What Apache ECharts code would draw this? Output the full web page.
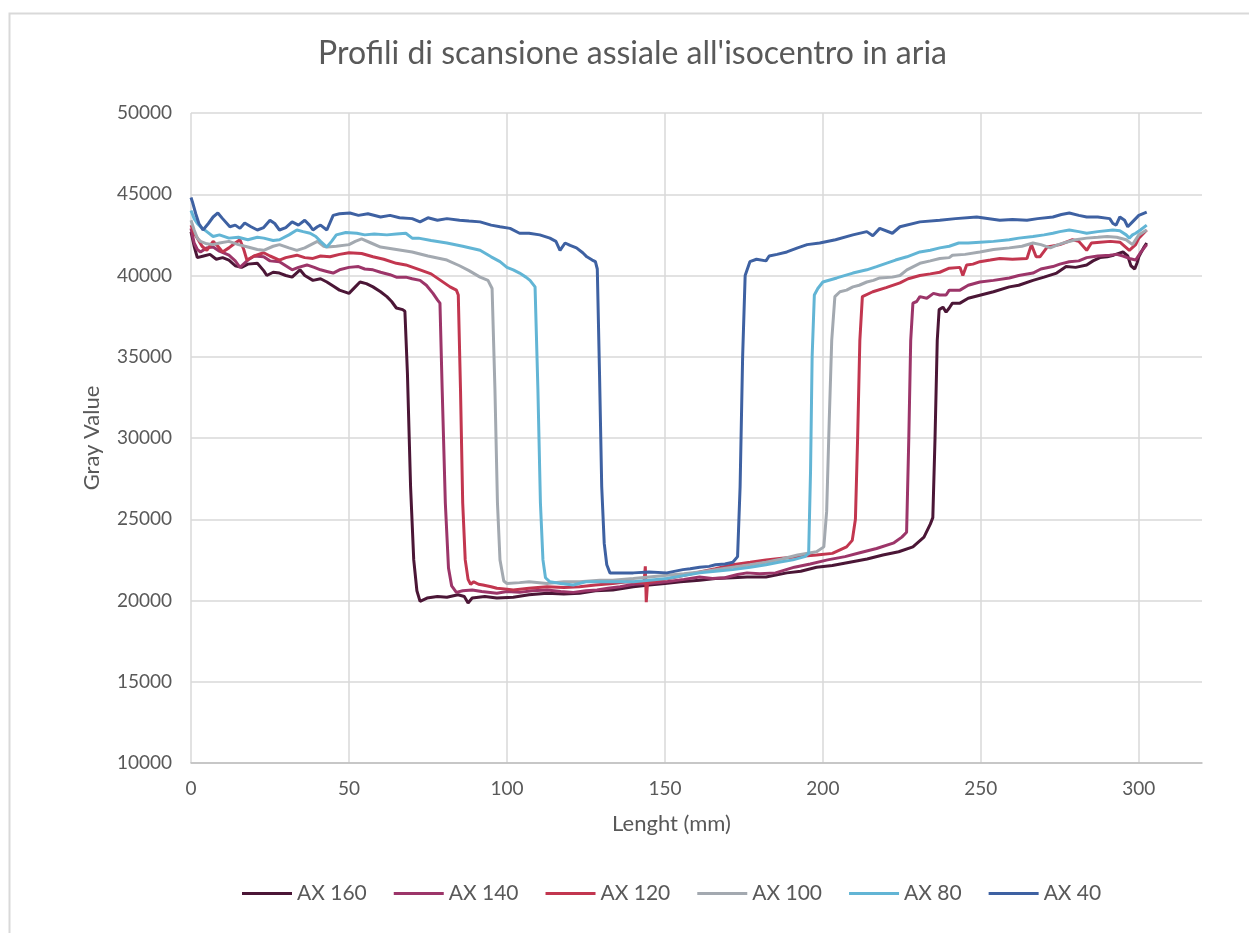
<!DOCTYPE html>
<html><head><meta charset="utf-8">
<script src="https://cdn.jsdelivr.net/npm/echarts@6/dist/echarts.min.js"></script>
<style>html,body{margin:0;padding:0;background:#fff}#c{width:1249px;height:933px}</style>
</head><body><div id="c"></div><script>
const titleText = "Profili di scansione assiale all'isocentro in aria";
const xName = "Lenght (mm)";
const yName = "Gray Value";
const seriesNames = ["AX 160", "AX 140", "AX 120", "AX 100", "AX 80", "AX 40"];
const seriesColors = ["#4b1636", "#9c3569", "#c2364f", "#a3a9b0", "#62b5d5", "#3e61a2"];
const xTicks = {min: 0, max: 320, step: 50};
const yTicks = {min: 10000, max: 50000, step: 5000};

const ax160 = [[0,42700],[1,41800],[2,41100],[4,41200],[6,41300],[8,41000],[10,41100],[12,40950],[14,40600],[16,40500],[18,40700],[21,40750],[23,40300],[24,40000],[26,40200],[28,40150],[30,40000],[32,39900],[34.5,40350],[36,40000],[38.6,39700],[41,39800],[43,39600],[45,39350],[47,39100],[50,38900],[52,39300],[53.5,39600],[55.5,39500],[57.6,39300],[60,39000],[62,38700],[63.5,38400],[65,38000],[67,37900],[67.7,37800],[68.5,34000],[69.5,27000],[70.5,22500],[71.5,20600],[72.5,19950],[74.7,20150],[78,20250],[81,20200],[84.5,20350],[86.5,20250],[87.7,19850],[89,20150],[93,20250],[96.8,20150],[102,20200],[107,20350],[112.7,20450],[118,20400],[123,20450],[128,20600],[133.5,20650],[140,20850],[145,20950],[150,21050],[155,21150],[161,21250],[166,21350],[171.5,21400],[176,21450],[182,21450],[188.6,21700],[193,21800],[198,22050],[203,22150],[208.5,22350],[214,22550],[219,22800],[224,23000],[228.5,23300],[232,23900],[234,24700],[234.8,25100],[235.5,30000],[236.2,36000],[236.8,37900],[238,38050],[239,37750],[240,38000],[241,38300],[243.4,38300],[246,38600],[250,38800],[254,39000],[259,39300],[262,39400],[266.5,39700],[270,39900],[274,40150],[277,40550],[280,40500],[283.5,40650],[285.5,40900],[287.7,41100],[290,41150],[292,41250],[295,41450],[296.5,41200],[297.5,40600],[298.7,40400],[299.5,40800],[300,41150],[301.5,41700],[302.5,42000]];

const ax140 = [[0,42900],[1,42000],[2,41600],[3,41450],[5,41700],[7,41750],[9,41500],[12,41250],[14,40900],[15.5,40500],[18,40950],[20,41200],[23,41150],[25,40900],[28,40850],[30,40600],[32,40350],[34,40500],[36.7,40650],[39,40500],[41,40350],[43,40250],[45,40150],[47,40350],[50,40500],[53,40550],[55,40400],[57.6,40350],[60,40200],[63,40050],[65,39900],[68,39900],[70,39800],[72.5,39700],[74.5,39400],[76.6,38900],[78,38500],[78.8,38300],[79.5,33000],[80.5,26000],[81.5,22000],[82.5,20900],[84,20500],[86,20600],[89,20650],[92,20550],[96.8,20450],[100,20550],[104,20500],[108,20600],[112.7,20650],[117,20550],[121,20500],[125,20600],[128.5,20650],[132,20750],[135.8,20850],[140,21000],[145,21050],[150.6,21150],[156,21300],[161,21450],[165,21350],[169,21400],[173,21600],[176,21700],[180,21650],[185,21700],[191,22050],[196,22250],[201.5,22500],[207,22700],[212,22950],[217,23200],[222.5,23550],[225,23900],[226.5,24200],[227.2,30000],[227.8,36000],[228.5,38300],[229.7,38400],[230.7,38700],[232.9,38600],[235,38900],[237,38800],[239,38800],[240,39100],[243.4,39100],[246,39400],[249.7,39600],[254,39700],[259,39850],[262,40000],[266.5,40150],[269,40400],[272.8,40550],[275,40700],[278,40850],[281,40900],[283.5,41100],[287,41200],[290.8,41250],[293,41300],[295,41200],[297,41050],[299,40950],[300.5,41400],[302.5,41900]];

const ax120 = [[0,43100],[1,42600],[2,42300],[3.5,41800],[5,41550],[7,42100],[8.5,41800],[10,41450],[12,41700],[14,42000],[15.5,42200],[16.7,41600],[17.7,40950],[20,41200],[23,41400],[25,41200],[28,40950],[30,41100],[33.5,41250],[36,41100],[38.6,41050],[41,41200],[44,41150],[47,41300],[50,41400],[54,41350],[57.6,41150],[61,41000],[65,40750],[68,40650],[72.5,40350],[76,40100],[79,39700],[82,39300],[84,39100],[84.6,38800],[85.3,33000],[86,26000],[86.8,22500],[87.7,21300],[88.5,21000],[89.5,21150],[91,21000],[92.4,20950],[95,20850],[96.8,20750],[100,20700],[102,20650],[107,20750],[112.7,20850],[118,20800],[123,20850],[128,20950],[133.5,21050],[138,21150],[143.4,21100],[143.8,22100],[144.1,19900],[144.5,21100],[150,21300],[155,21500],[161,21750],[166,21950],[171.5,22200],[177,22350],[182,22500],[187,22600],[192.5,22700],[198,22800],[203,22900],[207.5,23300],[209.3,23700],[210.3,25000],[211,30000],[211.7,36000],[212.5,38700],[215.8,39000],[220,39250],[224.4,39550],[227,39800],[230.7,40000],[234,40100],[237,40200],[240,40450],[243.4,40500],[244.3,40000],[245.5,40650],[247.5,40700],[249.7,40850],[253,40950],[256,41050],[260,41000],[264.6,41050],[266,41900],[267.5,41150],[268.7,41150],[271,41750],[275,41900],[279,42200],[281,42100],[283.5,41550],[285,42000],[287.7,42050],[291,42100],[294,42050],[297,41550],[299,41900],[300,42300],[302.5,42800]];

const ax100 = [[0,43400],[1,42800],[2,42300],[3,42100],[5,41950],[7,41900],[9,42000],[12,42100],[15,41900],[18,41750],[21,41600],[23,41550],[26,41800],[28,41900],[31,41700],[33.5,41550],[36,41700],[38,41900],[40,42100],[42,41800],[43,41750],[46,41800],[50,41900],[52,42100],[54,42250],[57,42000],[60,41750],[65,41600],[70,41450],[75,41200],[81,40950],[85,40600],[88,40300],[91.5,39900],[94,39700],[95.3,39200],[96.2,33000],[97,26000],[97.8,22500],[99,21200],[100,21050],[104,21100],[107,21150],[112.7,21050],[118,21150],[123,21150],[129.4,21250],[133.5,21250],[140,21350],[145,21450],[150.6,21550],[156,21650],[161,21750],[166,21900],[171.5,22050],[177,22200],[182,22350],[187,22550],[192,22800],[198,23000],[200.3,23300],[201.2,25500],[202,31000],[202.8,36000],[203.8,38700],[205.4,39000],[207.5,39100],[209.5,39300],[211.5,39400],[213.9,39600],[216,39700],[218,39850],[222,39900],[224.4,40000],[226.6,40350],[230.7,40750],[234,40900],[237,41050],[240,41100],[241,41250],[245,41300],[249.7,41450],[254,41600],[259,41700],[263,41800],[266.5,42000],[269,41900],[272,41700],[274.5,41900],[277,42050],[280,42200],[283.5,42300],[287,42350],[290,42400],[293,42350],[296,42200],[298,41900],[300,42500],[302.5,42800]];

const ax80 = [[0,44000],[1,43500],[2,43200],[3,43000],[5,42700],[7,42400],[9,42500],[12,42300],[15,42350],[18,42200],[21,42350],[23,42300],[26,42150],[28,42200],[31,42500],[33.5,42800],[35.5,42700],[37.7,42600],[39.5,42400],[41,42100],[43,41750],[44.5,42100],[46,42500],[49,42650],[52.5,42600],[55,42500],[58,42550],[62,42500],[65,42550],[68,42600],[70,42300],[72,42300],[76,42150],[81,42000],[86,41800],[91.5,41550],[95,41150],[97.8,40850],[100,40500],[102,40350],[104,40150],[106,39900],[107.3,39700],[108.9,39300],[109.8,33000],[110.6,26000],[111.4,22500],[112.2,21400],[113.6,21150],[117,21050],[121,20950],[125,21150],[129.4,21150],[133.5,21150],[140,21150],[145,21250],[150.6,21350],[155,21500],[161,21700],[166,21800],[171.5,21900],[177,22050],[182,22200],[186,22350],[190.5,22500],[194.3,22700],[195.5,22900],[196.1,28000],[196.6,35000],[197.3,38800],[198.4,39200],[200,39600],[204.4,39850],[209.5,40150],[213.9,40350],[217,40550],[220,40750],[223,40950],[226.6,41150],[230.7,41450],[234,41550],[237,41700],[240,41800],[243,42000],[246,42000],[249.7,42050],[254,42100],[259,42200],[262,42300],[266.5,42400],[270,42500],[272.8,42600],[275,42700],[278,42800],[281,42700],[283.5,42600],[287,42700],[291.8,42800],[294,42750],[296,42500],[297,42300],[298,42500],[299,42600],[300.5,42800],[302.5,43100]];

const ax40 = [[0,44800],[0.5,44500],[1.5,43800],[2.5,43200],[3.8,42800],[5.5,43200],[7,43600],[8.5,43850],[10,43500],[12.3,43000],[14,43100],[15.5,42900],[17,43230],[19,43000],[21,42800],[23,42950],[25,43400],[26.5,43200],[28,42800],[30,42950],[32,43300],[34,43100],[36,43400],[37.5,43100],[38.6,42800],[40,43000],[41,43100],[43,42800],[45,43700],[47,43800],[50.3,43850],[53,43700],[56,43800],[60,43600],[63,43700],[66,43550],[70,43500],[72.5,43300],[75,43550],[78,43400],[81,43500],[85,43400],[88,43350],[91.5,43300],[95,43100],[97.8,43000],[101,42900],[104,42600],[107,42600],[110.4,42500],[113.6,42300],[115.5,42100],[116.8,41550],[118.4,42000],[120,41850],[122,41700],[124,41400],[125.3,41150],[127,40950],[128,40850],[128.6,40400],[129.3,34000],[130,27000],[130.8,23500],[131.6,22200],[132.6,21700],[136,21700],[140,21700],[145,21750],[150.6,21700],[155.7,21900],[158,21950],[161,22050],[164,22100],[166,22200],[169,22250],[171.5,22350],[173,22700],[173.8,27000],[174.6,35000],[175.4,40000],[176.9,40850],[179,41000],[182,40900],[183,41200],[185.5,41300],[188.6,41450],[192,41700],[195,41900],[199,42000],[204,42200],[209.5,42500],[213.9,42700],[215.8,42450],[218,42900],[222,42600],[224.4,43000],[230.7,43300],[237,43400],[242,43500],[248.7,43600],[256,43400],[260,43450],[264.6,43400],[268,43500],[272.8,43600],[275.5,43750],[278,43850],[281,43700],[283.5,43600],[287,43600],[290.8,43500],[291.8,43200],[292.8,43100],[294,43600],[295.5,43400],[296.5,43000],[298,43300],[300,43700],[302.5,43900]];

const seriesData = [ax160, ax140, ax120, ax100, ax80, ax40];

const FONT = 'Lato, "Open Sans", sans-serif';
const TXT = '#595959';
const chart = echarts.init(document.getElementById('c'), null, {renderer: 'canvas'});
chart.setOption({
  backgroundColor: '#ffffff',
  animation: false,
  graphic: [{
    type: 'rect', silent: true, z: -10,
    shape: {x: 9.5, y: 13.5, width: 1400, height: 1000},
    style: {fill: 'none', stroke: '#d9d9d9', lineWidth: 2}
  }],
  title: {
    text: titleText, left: 313, top: 33,
    textStyle: {fontFamily: FONT, fontSize: 32, fontWeight: 'normal', color: TXT}
  },
  grid: {left: 191, right: 47, top: 113, bottom: 170, containLabel: false},
  legend: {
    data: seriesNames.map(n => ({name: n, icon: 'rect'})),
    left: 237, top: 878,
    itemWidth: 50, itemHeight: 3, itemGap: 27,
    textStyle: {fontFamily: FONT, fontSize: 21, color: TXT}
  },
  xAxis: {
    type: 'value', min: xTicks.min, max: xTicks.max, interval: xTicks.step,
    name: xName, nameLocation: 'middle', nameGap: 50,
    nameTextStyle: {fontFamily: FONT, fontSize: 22, color: TXT, padding: [0, 50, 0, 0]},
    axisLine: {show: true, lineStyle: {color: '#bfbfbf', width: 1.5}},
    axisTick: {show: false},
    axisLabel: {showMaxLabel: false, margin: 16, fontFamily: FONT, fontSize: 19, color: TXT,
      formatter: v => String(v)},
    splitLine: {show: true, showMaxLine: false, lineStyle: {color: '#d9d9d9', width: 1.5}}
  },
  yAxis: {
    type: 'value', min: yTicks.min, max: yTicks.max, interval: yTicks.step,
    name: yName, nameLocation: 'middle', nameGap: 88, nameRotate: 90,
    nameTextStyle: {fontFamily: FONT, fontSize: 22, color: TXT},
    axisLine: {show: false}, axisTick: {show: false},
    axisLabel: {margin: 19, fontFamily: FONT, fontSize: 19, color: TXT,
      formatter: v => String(v)},
    splitLine: {show: true, lineStyle: {color: '#d9d9d9', width: 1.5}}
  },
  series: seriesNames.map((n, i) => ({
    name: n, type: 'line', data: seriesData[i],
    showSymbol: false, symbol: 'none', smooth: false,
    color: seriesColors[i],
    lineStyle: {width: 3, color: seriesColors[i]}
  }))
});
</script></body></html>
